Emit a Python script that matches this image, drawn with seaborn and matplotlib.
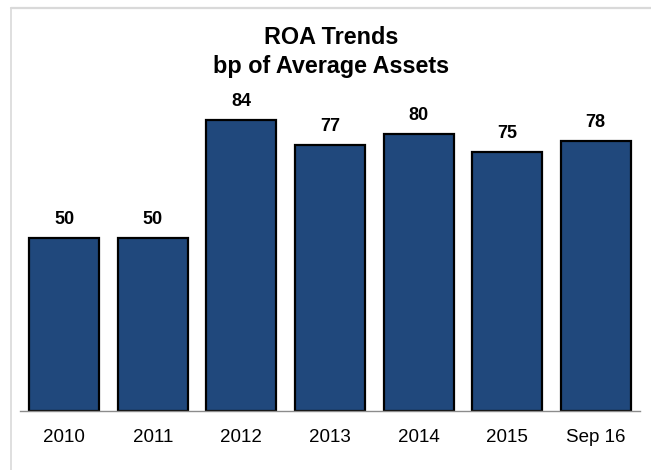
import matplotlib
matplotlib.use("Agg")
import matplotlib.pyplot as plt
from matplotlib.lines import Line2D
import seaborn as sns
import pandas as pd

periods = ["2010", "2011", "2012", "2013", "2014", "2015", "Sep 16"]
roa_bp = [50, 50, 84, 77, 80, 75, 78]

sns.set_theme(style="white")
plt.rcParams["font.family"] = ["Liberation Sans", "DejaVu Sans"]
plt.rcParams["text.color"] = "black"
plt.rcParams["xtick.color"] = "black"

df = pd.DataFrame({"period": periods, "roa": roa_bp})

fig = plt.figure(figsize=(6.51, 4.70), dpi=100)
ax = fig.add_axes([20 / 651, 59 / 470, 620 / 651, 346 / 470])

sns.barplot(data=df, x="period", y="roa", color="#20487C", saturation=1,
            width=0.79, edgecolor="black", linewidth=1.6, ax=ax)

ax.set_ylim(0, 100)
ax.set_xlim(-0.5, len(periods) - 0.5)
ax.set_xlabel("")
ax.set_ylabel("")
ax.set_yticks([])
for side in ("left", "right", "top"):
    ax.spines[side].set_visible(False)
ax.spines["bottom"].set_color("#8c8c8c")
ax.spines["bottom"].set_linewidth(1.0)

# category labels centred, tick marks on the boundaries between categories
ax.set_xticks(range(len(periods)))
ax.set_xticklabels(periods, fontsize=13.5, color="black")
ax.tick_params(axis="x", which="major", length=0, pad=13)
ax.set_xticks([i - 0.5 for i in range(len(periods) + 1)], minor=True)
ax.tick_params(axis="x", which="minor", length=5, width=1.0,
               color="#8c8c8c", direction="out")

for i, v in enumerate(roa_bp):
    ax.annotate(f"{v}", (i, v), xytext=(0, 10), textcoords="offset points",
                ha="center", va="baseline", fontsize=13, fontweight="bold",
                color="black")

fig.text(331 / 651, 1 - 44 / 470, "ROA Trends", ha="center", va="baseline",
         fontsize=16.8, fontweight="bold", color="black")
fig.text(331 / 651, 1 - 73 / 470, "bp of Average Assets", ha="center",
         va="baseline", fontsize=16.8, fontweight="bold", color="black")

# light frame around the chart area
frame_color = "#d9d9d9"
fig.add_artist(Line2D([10.5 / 651, 10.5 / 651], [0, 1 - 7.5 / 470],
                      transform=fig.transFigure, color=frame_color, lw=1.2))
fig.add_artist(Line2D([10.5 / 651, 1], [1 - 7.5 / 470, 1 - 7.5 / 470],
                      transform=fig.transFigure, color=frame_color, lw=1.6))

fig.savefig("out.png", dpi=100)
